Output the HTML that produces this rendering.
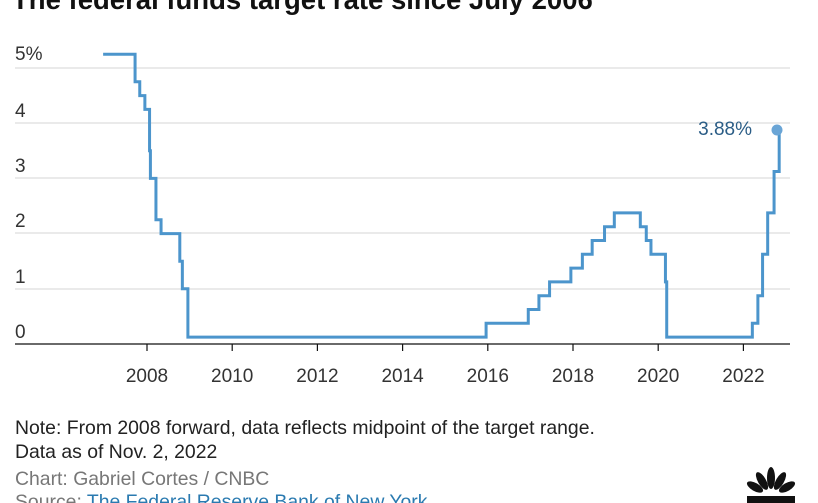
<!DOCTYPE html>
<html><head><meta charset="utf-8"><style>
html,body{margin:0;padding:0;background:#fff;width:818px;height:503px;overflow:hidden;font-family:"Liberation Sans",sans-serif;}
svg{position:absolute;left:0;top:0}
</style></head><body>
<svg width="818" height="503" viewBox="0 0 818 503">
<text x="12" y="9" font-size="27.5" font-weight="bold" fill="#111">The federal funds target rate since July 2006</text>
<g stroke="#d6d6d6" stroke-width="1">
<line x1="15" y1="68" x2="790" y2="68"/><line x1="15" y1="123" x2="790" y2="123"/>
<line x1="15" y1="178" x2="790" y2="178"/><line x1="15" y1="233" x2="790" y2="233"/>
<line x1="15" y1="289" x2="790" y2="289"/>
</g>
<line x1="15" y1="344" x2="790" y2="344" stroke="#111" stroke-width="1.2"/>
<g font-size="19" fill="#333">
<text x="15" y="60">5%</text><text x="15" y="117">4</text><text x="15" y="172">3</text>
<text x="15" y="227">2</text><text x="15" y="283">1</text><text x="15" y="338">0</text>
</g>
<g font-size="19" fill="#333" text-anchor="middle" id="xl"></g>
<g id="ticks" stroke="#111" stroke-width="1.2"></g>
<path id="ln" fill="none" stroke="#4c95cc" stroke-width="3" stroke-linejoin="miter"/>
<circle cx="777" cy="130" r="5.5" fill="#6aa5d6"/>
<text x="752" y="135" font-size="19" fill="#2b5d86" text-anchor="end">3.88%</text>
<g font-size="19.4">
<text x="15" y="434" fill="#222">Note: From 2008 forward, data reflects midpoint of the target range.</text>
<text x="15" y="458" fill="#222">Data as of Nov. 2, 2022</text>
<text x="15" y="485" fill="#777">Chart: Gabriel Cortes / CNBC</text>
<text x="15" y="508" fill="#777">Source: <tspan fill="#2a7ab0">The Federal Reserve Bank of New York</tspan></text>
</g>
<g transform="translate(771,492)" fill="#111">
<ellipse cx="0" cy="-14" rx="4" ry="11"/>
<ellipse cx="-9" cy="-11" rx="4" ry="10" transform="rotate(-30 -9 -11)"/>
<ellipse cx="9" cy="-11" rx="4" ry="10" transform="rotate(30 9 -11)"/>
<ellipse cx="-16" cy="-5" rx="4" ry="9" transform="rotate(-60 -16 -5)"/>
<ellipse cx="16" cy="-5" rx="4" ry="9" transform="rotate(60 16 -5)"/>
<rect x="-24" y="4" width="48" height="8"/>
</g>
</svg>
<script>
var X=function(t){return 147+(t-2008)*42.6},Y=function(v){return 344-v*55.2};
var d=[[2006.97,5.25],[2007.72,4.75],[2007.83,4.5],[2007.95,4.25],[2008.06,3.5],[2008.08,3.0],[2008.21,2.25],[2008.33,2.0],[2008.77,1.5],[2008.83,1.0],[2008.96,0.125],[2015.96,0.375],[2016.95,0.625],[2017.2,0.875],[2017.45,1.125],[2017.95,1.375],[2018.22,1.625],[2018.45,1.875],[2018.74,2.125],[2018.97,2.375],[2019.58,2.125],[2019.72,1.875],[2019.83,1.625],[2020.17,1.125],[2020.2,0.125],[2022.21,0.375],[2022.34,0.875],[2022.45,1.625],[2022.57,2.375],[2022.72,3.125],[2022.84,3.875]];
var p="M"+X(d[0][0])+" "+Y(d[0][1]);
for(var i=1;i<d.length;i++){p+=" H"+X(d[i][0])+" V"+Y(d[i][1]);}
document.getElementById("ln").setAttribute("d",p);
var xl=document.getElementById("xl"),tk=document.getElementById("ticks"),ns="http://www.w3.org/2000/svg";
for(var y=2008;y<=2022;y+=2){var t=document.createElementNS(ns,"text");t.setAttribute("x",X(y));t.setAttribute("y",382);t.textContent=y;xl.appendChild(t);
var l=document.createElementNS(ns,"line");l.setAttribute("x1",X(y));l.setAttribute("x2",X(y));l.setAttribute("y1",344);l.setAttribute("y2",351);tk.appendChild(l);}
</script>
</body></html>
